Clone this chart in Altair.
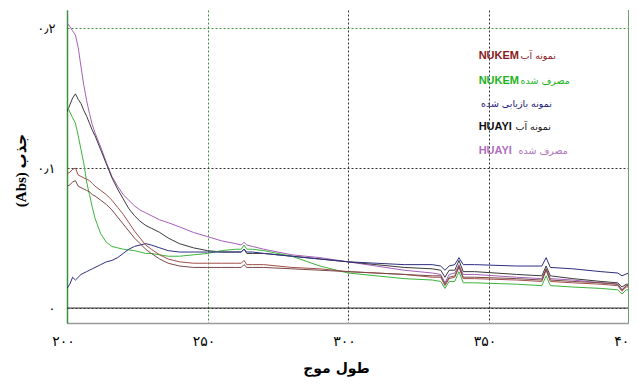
import altair as alt
import pandas as pd

# ---------------- data ----------------
wavelength = [200, 201, 202, 203, 204, 205, 206, 207, 208, 209, 210, 212, 214, 216, 218, 220,
              222, 224, 226, 228, 230, 233, 236, 240, 245, 250, 255, 260, 262, 263, 264, 266,
              270, 280, 290, 300, 310, 320, 330, 333, 334.5, 336, 338, 339.5, 341, 345, 360,
              369, 370.5, 372, 380, 390, 396, 397.5, 399, 400]

huayi_consumed = [0.204, 0.201, 0.198, 0.195, 0.186, 0.172, 0.159, 0.148, 0.139, 0.131, 0.125,
                  0.115, 0.104, 0.094, 0.087, 0.081, 0.077, 0.073, 0.070, 0.068, 0.066, 0.063,
                  0.061, 0.058, 0.054, 0.051, 0.048, 0.046, 0.045, 0.047, 0.045, 0.044, 0.042,
                  0.038, 0.036, 0.033, 0.030, 0.027, 0.025, 0.024, 0.018, 0.024, 0.025, 0.031,
                  0.024, 0.024, 0.022, 0.021, 0.028, 0.021, 0.020, 0.018, 0.017, 0.013, 0.016,
                  0.016]

huayi_water = [0.140, 0.145, 0.150, 0.153, 0.149, 0.146, 0.141, 0.137, 0.132, 0.127, 0.123,
               0.113, 0.103, 0.093, 0.085, 0.078, 0.071, 0.066, 0.062, 0.059, 0.057, 0.054,
               0.050, 0.046, 0.043, 0.041, 0.040, 0.040, 0.040, 0.042, 0.039, 0.039, 0.039,
               0.037, 0.035, 0.033, 0.031, 0.029, 0.028, 0.027, 0.022, 0.027, 0.027, 0.034,
               0.026, 0.026, 0.024, 0.023, 0.030, 0.023, 0.021, 0.019, 0.018, 0.015, 0.017,
               0.017]

nukem_consumed = [0.145, 0.140, 0.136, 0.132, 0.123, 0.113, 0.103, 0.090, 0.081, 0.072, 0.064,
                  0.053, 0.047, 0.044, 0.043, 0.042, 0.0415, 0.041, 0.040, 0.039, 0.039, 0.038,
                  0.037, 0.037, 0.038, 0.039, 0.041, 0.042, 0.042, 0.045, 0.042, 0.042, 0.041,
                  0.037, 0.030, 0.025, 0.023, 0.021, 0.020, 0.019, 0.014, 0.019, 0.019, 0.026,
                  0.018, 0.018, 0.017, 0.016, 0.023, 0.016, 0.015, 0.014, 0.013, 0.010, 0.013,
                  0.013]

recovered = [0.014, 0.017, 0.022, 0.020, 0.022, 0.024, 0.025, 0.026, 0.027, 0.028, 0.029,
             0.031, 0.033, 0.034, 0.036, 0.039, 0.042, 0.044, 0.045, 0.046, 0.045, 0.043,
             0.041, 0.040, 0.040, 0.040, 0.040, 0.040, 0.040, 0.042, 0.040, 0.040, 0.039,
             0.037, 0.035, 0.033, 0.032, 0.031, 0.031, 0.030, 0.027, 0.030, 0.031, 0.036,
             0.031, 0.031, 0.030, 0.030, 0.036, 0.029, 0.028, 0.026, 0.025, 0.023, 0.025,
             0.0]

nukem_water = [0.096, 0.097, 0.099, 0.100, 0.095, 0.094, 0.093, 0.092, 0.091, 0.089, 0.087,
               0.084, 0.081, 0.077, 0.072, 0.067, 0.061, 0.055, 0.050, 0.045, 0.042, 0.038,
               0.035, 0.033, 0.032, 0.032, 0.032, 0.032, 0.032, 0.034, 0.031, 0.031, 0.031,
               0.029, 0.028, 0.026, 0.025, 0.024, 0.022, 0.022, 0.016, 0.021, 0.022, 0.029,
               0.021, 0.021, 0.020, 0.019, 0.027, 0.019, 0.018, 0.017, 0.016, 0.012, 0.015,
               0.015]

nukem_water_2 = [0.087, 0.088, 0.090, 0.091, 0.087, 0.086, 0.085, 0.084, 0.083, 0.081, 0.080,
                 0.077, 0.074, 0.070, 0.065, 0.060, 0.055, 0.050, 0.046, 0.042, 0.039, 0.035,
                 0.032, 0.030, 0.029, 0.029, 0.029, 0.029, 0.029, 0.031, 0.029, 0.029, 0.029,
                 0.028, 0.027, 0.026, 0.025, 0.024, 0.023, 0.023, 0.017, 0.022, 0.023, 0.030,
                 0.022, 0.022, 0.021, 0.020, 0.028, 0.020, 0.019, 0.018, 0.017, 0.013, 0.016,
                 0.016]

series_names = ["HUAYI consumed", "HUAYI water", "NUKEM consumed", "recovered",
                "NUKEM water", "NUKEM water 2"]
series_values = [huayi_consumed, huayi_water, nukem_consumed, recovered,
                 nukem_water, nukem_water_2]
series_colors = ["#a65fb8", "#3a3a3a", "#3cb43c", "#2e2e82", "#a0504a", "#7a4a48"]

x_ticks = [200, 250, 300, 350, 400]
x_tick_labels = ["۲۰۰", "۲۵۰", "۳۰۰", "۳۵۰", "۴۰۰"]
y_ticks = [0, 0.1, 0.2]
y_tick_labels = ["۰", "۰٫۱", "۰٫۲"]

legend_latin = ["NUKEM", "NUKEM", "", "HUAYI", "HUAYI"]
legend_persian = ["نمونه آب", "مصرف شده", "نمونه بازیابی شده", "نمونه آب", "مصرف شده"]
legend_colors = ["#8b1a1a", "#1db31d", "#1a1a78", "#111111", "#b070c0"]
legend_latin_x = [346.5, 346.5, 346.5, 346.5, 346.5]
legend_persian_x = [361.4, 361.4, 347.3, 359.6, 360.7]
legend_y = [0.180, 0.162, 0.1457, 0.129, 0.112]

# ---------------- tables ----------------
rows = []
for name, vals in zip(series_names, series_values):
    for w, v in zip(wavelength, vals):
        wl = w
        if name == "recovered" and w == 399:
            wl = 399.8
        rows.append({"wl": wl, "abs": v, "series": name})
df = pd.DataFrame(rows)

leg = pd.DataFrame({
    "latin": legend_latin, "persian": legend_persian, "color": legend_colors,
    "lx": legend_latin_x, "px": legend_persian_x, "y": legend_y,
})


def label_expr(values, labels):
    expr = "''"
    for v, l in reversed(list(zip(values, labels))):
        expr = f"abs(datum.value - {v}) < 1e-9 ? '{l}' : ({expr})"
    return expr


x_scale = alt.Scale(domain=[200, 400], nice=False, zero=False)
y_scale = alt.Scale(domain=[-0.0107, 0.2129], nice=False, zero=False)

GREEN = "#3f8f3f"
DARK = "#333333"

x_axis = alt.Axis(
    values=x_ticks, labelExpr=label_expr(x_ticks, x_tick_labels),
    title="طول موج", titleFont="DejaVu Sans", titleFontSize=14, titleFontWeight="bold",
    titleColor="#000", titleX=269, titleY=45, titleBaseline="middle", titleAlign="center",
    labelFont="DejaVu Sans", labelFontSize=14, labelColor="#000", labelPadding=11,
    labelOffset=-4, ticks=False, domainColor="#9a9a9a", domainWidth=1.5,
    grid=True, gridDash=[2, 2], gridWidth=1,
    gridColor={"condition": {"test": "datum.value == 250 || datum.value == 200", "value": GREEN},
               "value": DARK},
    labelFlush=False,
)
y_axis = alt.Axis(
    values=y_ticks, labelExpr=label_expr(y_ticks, y_tick_labels),
    title="(Abs) جذب", titleFont="Liberation Serif, DejaVu Sans", titleFontSize=15,
    titleFontWeight="bold", titleColor="#000", titleAngle=270, titleX=-47, titleY=160,
    titleBaseline="middle", titleAlign="center",
    labelFont="DejaVu Sans", labelFontSize=13, labelColor="#000", labelPadding=12,
    ticks=False, domainColor=GREEN, domainWidth=1.5,
    grid=True, gridDash=[2, 2], gridWidth=1,
    gridColor={"condition": {"test": "datum.value > 0.15", "value": GREEN}, "value": DARK},
    labelFlush=False,
)

lines = alt.Chart(df).mark_line(strokeWidth=1, clip=True).encode(
    x=alt.X("wl:Q", scale=x_scale, axis=x_axis),
    y=alt.Y("abs:Q", scale=y_scale, axis=y_axis),
    color=alt.Color("series:N", scale=alt.Scale(domain=series_names, range=series_colors),
                    legend=None),
    detail="series:N",
)

zero_line = alt.Chart(pd.DataFrame({"v": [0.0]})).mark_rule(color="#333333", strokeWidth=1).encode(
    y=alt.Y("v:Q", scale=y_scale),
)
right_edge = alt.Chart(pd.DataFrame({"v": [400]})).mark_rule(color="#6f9f6f", strokeWidth=2).encode(
    x=alt.X("v:Q", scale=x_scale),
)

latin_text = alt.Chart(leg).mark_text(
    align="left", baseline="middle", font="Liberation Sans", fontSize=11, fontWeight="bold"
).encode(
    x=alt.X("lx:Q", scale=x_scale), y=alt.Y("y:Q", scale=y_scale),
    text="latin:N", color=alt.Color("color:N", scale=None),
)
persian_text = alt.Chart(leg).mark_text(
    align="left", baseline="middle", font="DejaVu Sans", fontSize=9.5
).encode(
    x=alt.X("px:Q", scale=x_scale), y=alt.Y("y:Q", scale=y_scale),
    text="persian:N", color=alt.Color("color:N", scale=None),
)

chart = alt.layer(zero_line, lines, right_edge, latin_text, persian_text).properties(
    width=562, height=313,
    autosize=alt.AutoSizeParams(type="none"),
    padding={"left": 59, "top": 2, "right": 0, "bottom": 54},
    background="white",
).configure_view(stroke=None)

chart.save("out.html", embed_options={"renderer": "svg", "actions": False})
